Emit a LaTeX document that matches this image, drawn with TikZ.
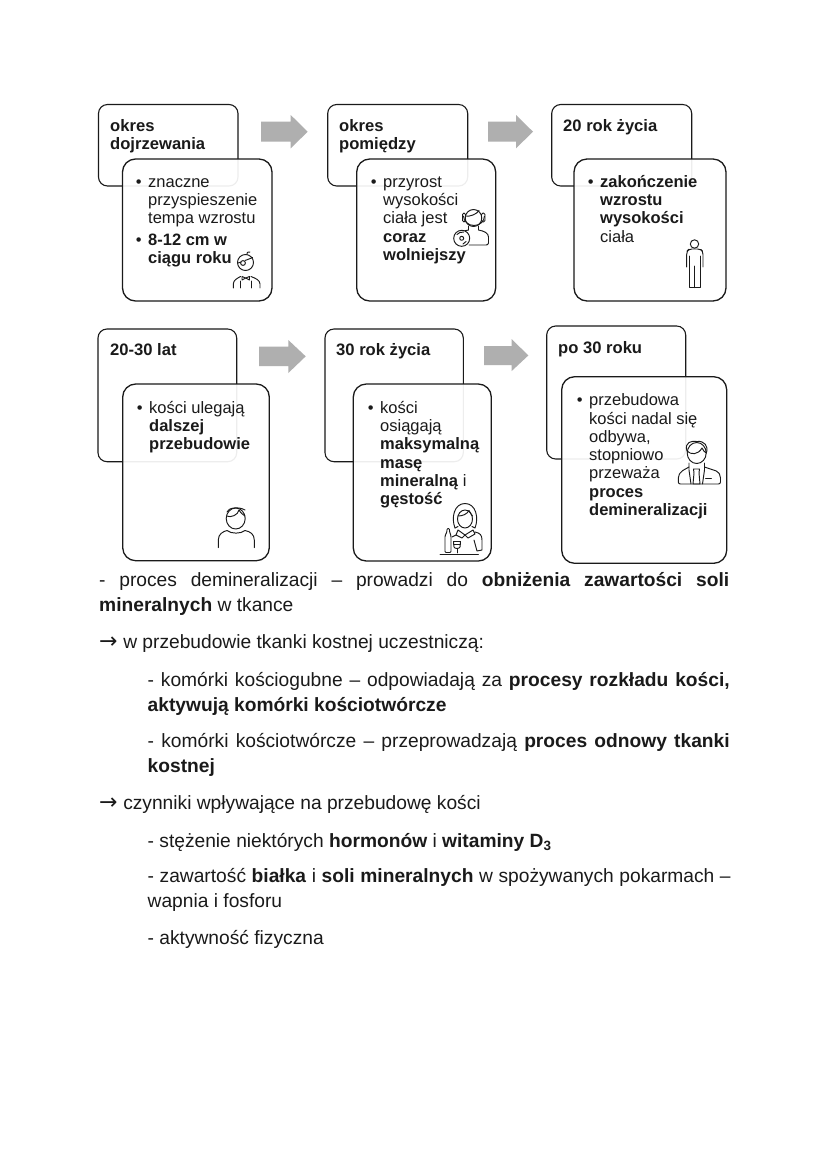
\documentclass[tikz,border=0pt]{standalone}
\usepackage{fontspec}
\setmainfont{Liberation Sans}
\newfontfamily\arrfont{DejaVu Sans}
\definecolor{ink}{HTML}{1A1A1A}
\definecolor{arrowgray}{HTML}{AFAFAF}
\newcommand{\fl}{\leavevmode\rule{0pt}{15pt}}
\newcommand{\bul}{\leavevmode\llap{\textbullet\hspace{6.5pt}}}
\newcommand{\bb}[1]{\textbf{#1}}
\newcommand{\arr}{{\fontsize{22}{25}\arrfont →}\kern.3pt}
\tikzset{
  backbox/.style={draw=ink,line width=1.1pt,rounded corners=9pt,fill=white},
  frontbox/.style={draw=ink,line width=1.3pt,rounded corners=13pt,fill=white,fill opacity=.92},
  headtext/.style={anchor=north west,inner sep=0pt,align=left,font=\fontsize{16.6}{18}\selectfont\bfseries,text=ink},
  boxtext/.style={anchor=north west,inner sep=0pt,align=left,font=\fontsize{16.5}{18.3}\selectfont,text=ink},
  para/.style={anchor=north west,inner sep=0pt,font=\fontsize{19.2}{25}\selectfont,text=ink},
  parablock/.style={para,align=justify},
  bigarrow/.style={fill=arrowgray,draw=none},
  icon/.style={draw=ink,line width=.95pt,line cap=round,line join=round},
}
\newcommand{\bigarr}[7]{% xleft xhead xtip ytop ybot yheadtop yheadbot
  \fill[bigarrow] (#1,#4) -- (#2,#4) -- (#2,#6) -- (#3,{(#4+#5)/2}) -- (#2,#7) -- (#2,#5) -- (#1,#5) -- cycle;}
\begin{document}
\begin{tikzpicture}[x=1pt,y=-1pt]
\useasboundingbox (0,0) rectangle (828,1171);
\fill[white] (0,0) rectangle (828,1171);
% row 1
\draw[backbox] (98.5,104.5) rectangle (238,186);
\draw[frontbox] (122.5,159) rectangle (272,301);
\node[headtext] (h1) at (110,116) {\fl okres\\dojrzewania};
\node[boxtext] (t1) at (148,172) {\fl\bul znaczne\\przyspieszenie\\tempa wzrostu\\[3.5pt]\bul\bb{8-12 cm w}\\\bb{ciągu roku}};
\draw[backbox] (327.7,104.5) rectangle (467.7,186);
\draw[frontbox] (356.7,159) rectangle (495.7,301);
\node[headtext] (h2) at (339,116) {\fl okres\\pomiędzy};
\node[boxtext] (t2) at (383,172) {\fl\bul przyrost\\wysokości\\ciała jest\\\bb{coraz}\\\bb{wolniejszy}};
\draw[backbox] (551.7,104.5) rectangle (691.7,186);
\draw[frontbox] (574,159) rectangle (726,301);
\node[headtext] (h3) at (563,116) {\fl 20 rok życia};
\node[boxtext] (t3) at (600,172) {\fl\bul\bb{zakończenie}\\\bb{wzrostu}\\\bb{wysokości}\\ciała};
\bigarr{261}{290.7}{307.7}{121.7}{141.7}{115}{148.3}
\bigarr{488}{516}{533}{121.7}{141.7}{115}{148.3}
% row 2
\draw[backbox] (98,329) rectangle (236.7,461.7);
\draw[frontbox] (122.7,384) rectangle (269.3,560.7);
\node[headtext] (h4) at (110,340.5) {\fl 20-30 lat};
\node[boxtext] (t4) at (149,398) {\fl\bul kości ulegają\\\bb{dalszej}\\\bb{przebudowie}};
\draw[backbox] (325,329) rectangle (463.3,461.7);
\draw[frontbox] (353.3,384) rectangle (491.3,561);
\node[headtext] (h5) at (336,340.5) {\fl 30 rok życia};
\node[boxtext] (t5) at (380,398) {\fl\bul kości\\osiągają\\\bb{maksymalną}\\\bb{masę}\\\bb{mineralną} i\\\bb{gęstość}};
\draw[backbox] (546.7,326) rectangle (685.7,459);
\draw[frontbox] (561.7,376.7) rectangle (726.7,563.3);
\node[headtext] (h6) at (558,338) {\fl po 30 roku};
\node[boxtext] (t6) at (589,390.5) {\fl\bul przebudowa\\kości nadal się\\odbywa,\\stopniowo\\przeważa\\\bb{proces}\\\bb{demineralizacji}};
\bigarr{259}{288.3}{305.7}{346.7}{366}{340}{373}
\bigarr{484}{511.7}{528.3}{346}{365}{339}{371}
% icons
\begin{scope}[icon]
% boy with glasses
\draw (245.5,262.5) circle (8);
\draw (238,263) -- (241,262) (245,260.5) -- (249,259) -- (252.5,257.5);
\draw (243,263) circle (2.4);
\draw (247,254.5) .. controls (246,252.5) and (248,251.5) .. (250,252);
\draw (233.3,288) -- (233.3,284) .. controls (233.5,280) and (237,278.5) .. (240.5,276.5);
\draw (260,288) -- (260,284) .. controls (259.7,280) and (256,278.5) .. (251,276.5);
\draw (242,276.5) -- (245.7,278) -- (249.5,276.5) -- (249.5,280) -- (245.7,278) -- (242,280) -- cycle;
\draw (240.5,281) -- (240.5,288) (251,281) -- (251,288);
% headphones and disc
\draw (473.5,218) ellipse (8.3 and 8.5);
\draw (465.3,216) .. controls (470,217) and (477,214) .. (479,210.5);
\draw (463.5,216) arc[start angle=180,end angle=0,x radius=10.5,y radius=9.5];
\draw[rounded corners=1.5pt] (462.5,213) rectangle (465.5,222);
\draw[rounded corners=1.5pt] (481.5,213) rectangle (485,222);
\draw (468.5,226) -- (468.5,230) (478.5,226) -- (478.5,230) .. controls (484,231) and (488.5,233) .. (488.5,237) -- (488.5,243) .. controls (488.5,244.5) and (487,245) .. (486,245) -- (469,245);
\draw (468.5,230) -- (464,231);
\draw[fill=white] (461.7,238.3) circle (8);
\draw (461.7,238.3) circle (2);
\draw (457,234.5) arc[start angle=220,end angle=280,radius=7];
\draw (463,244) arc[start angle=70,end angle=30,radius=6];
% standing person
\draw (694.5,244) circle (4.2);
\draw[rounded corners=3pt] (686.7,267) -- (686.7,251.5) -- (689,249) -- (700.5,249) -- (703,251.5) -- (703,267);
\draw (689.6,256) -- (689.6,287.7) -- (700,287.7) -- (700,256);
\draw (694.8,266) -- (694.8,287.7);
% man
\draw (235.7,518.5) ellipse (9.5 and 10.5);
\draw (226.5,516) .. controls (231,518) and (238,515) .. (239,510) .. controls (241,513) and (243,515) .. (245,516);
\draw (227,512) .. controls (228,508) and (238,506) .. (245,510);
\draw (218.3,547.7) -- (218.3,540) .. controls (218.3,534) and (223,531.5) .. (227,530.5) .. controls (231,534) and (241,534) .. (245,530.5) .. controls (250,531.5) and (254.3,534) .. (254.3,540) -- (254.3,547.7);
% woman with wine
\draw (465,519) ellipse (7.5 and 9);
\draw (458,516) .. controls (463,516) and (467,514) .. (469,510.5) .. controls (470,513) and (472,515) .. (472.5,516);
\draw (455,528) .. controls (451,518) and (454,503.5) .. (465,503.5) .. controls (476,503.5) and (479,518) .. (475,528) -- (472,526.5);
\draw (455,528) -- (458,526.5);
\draw (458,530) -- (465,535) -- (473,530) (458,530) -- (456,535) -- (462,538) -- (465,535) -- (468,538) -- (475,534) -- (473,530);
\draw (475,532) .. controls (480,533) and (482,535) .. (482,540) -- (482,550) -- (477,551) -- (474,540);
\draw (456,535) -- (452,537);
\draw (440,554) -- (478.3,554);
\draw[rounded corners=1pt] (445,552.5) -- (445,536) -- (447,531.5) -- (447,528.5) -- (449.5,528.5) -- (449.5,531.5) -- (451,536) -- (451,552.5) -- cycle;
\draw (453.5,541.5) -- (460.5,541.5) -- (460,547) .. controls (459,549) and (455,549) .. (454,547) -- cycle;
\draw (457,549) -- (457,553) (453.5,544.5) -- (460.5,544.5);
% businessman
\draw (696.7,453) ellipse (9.5 and 10.5);
\draw (687,451) .. controls (691,455) and (698,455) .. (702,448) .. controls (703,451) and (705,452) .. (706.3,453);
\draw (687,451) .. controls (684,442) and (692,440.5) .. (697,441.5) .. controls (704,440.5) and (709,446) .. (706.3,453);
\draw[rounded corners=2pt] (689,467) -- (681,471.5) -- (678.3,476) -- (678.3,484) -- (720.5,484) -- (720.5,476) -- (718,471.5) -- (704.5,467);
\draw (689,463) -- (689,470) -- (691,484);
\draw (704.5,463) -- (704.5,470) -- (702.5,484);
\draw (693.5,469) -- (699.5,469) -- (699,473) -- (700,484) -- (693,484) -- (694,473) -- cycle;
\draw (705.5,478) -- (711.5,478);
\end{scope}
% paragraphs
\node[parablock,text width=630pt] (p1) at (99,572.5) {- proces demineralizacji – prowadzi do \bb{obniżenia zawartości soli}\linebreak\bb{mineralnych} w tkance};
\node[para] (p2) at (99,634) {\arr{} w przebudowie tkanki kostnej uczestniczą:};
\node[parablock,text width=582pt] (p3) at (147.5,672) {- komórki kościogubne – odpowiadają za \bb{procesy rozkładu kości,}\linebreak\bb{aktywują komórki kościotwórcze}};
\node[parablock,text width=582pt] (p4) at (147.5,733) {- komórki kościotwórcze – przeprowadzają \bb{proces odnowy tkanki}\linebreak\bb{kostnej}};
\node[para] (p5) at (99,795) {\arr{} czynniki wpływające na przebudowę kości};
\node[para] (p6) at (147.5,833) {- stężenie niektórych \bb{hormonów} i \bb{witaminy D\textsubscript{3}}};
\node[parablock,text width=583pt] (p7) at (147.5,868) {\hyphenpenalty=10000 - zawartość \bb{białka} i \bb{soli mineralnych} w spożywanych pokarmach –\linebreak wapnia i fosforu};
\node[para] (p8) at (147.5,930) {- aktywność fizyczna};
\end{tikzpicture}
\end{document}
